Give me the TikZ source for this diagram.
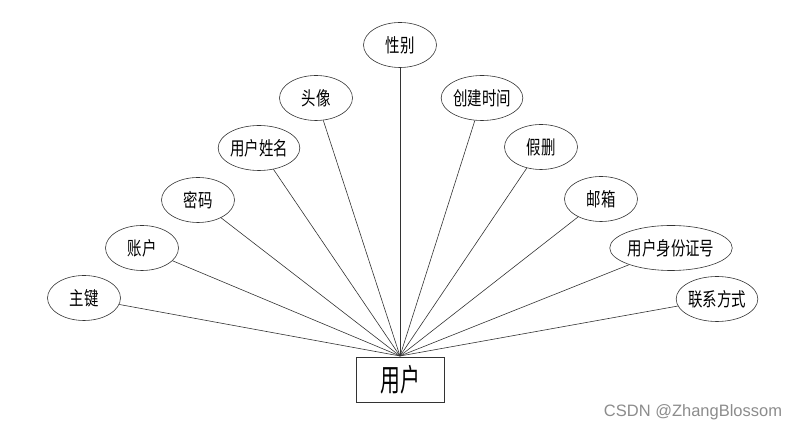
\documentclass[tikz,border=0pt]{standalone}
\usepackage{fontspec}
\usepackage{graphicx}
\usetikzlibrary{shapes.geometric}
\newfontfamily\cjk{Noto Sans CJK SC}
\newfontfamily\wmfont{Liberation Sans}
\newcommand\zhtxt[1]{\scalebox{0.76}[1]{#1}}
\newcommand\bigzh[1]{\scalebox{0.64}[1]{#1}}
\begin{document}
\begin{tikzpicture}[x=1pt,y=1pt,
  attr/.style={draw=black!80, line width=0.6pt, ellipse, minimum width=73pt, minimum height=45pt, inner sep=0pt, font=\cjk\fontsize{19}{19}\selectfont},
  ent/.style={draw=black!80, line width=0.7pt, rectangle, minimum width=88pt, minimum height=45pt, inner sep=0pt, font=\cjk\fontsize{31}{31}\selectfont},
  link/.style={draw=black!80, line width=0.6pt}]
\useasboundingbox (0,0) rectangle (800,430);
\node[ent] (u) at (400,50.5) {\bigzh{用户}};
\coordinate (hub) at (400,74);
\node[attr] (xb) at (400,385) {\zhtxt{性别}};
\node[attr] (tx) at (316,332) {\zhtxt{头像}};
\node[attr] (cj) at (482,332) {\zhtxt{创建时间}};
\node[attr] (xm) at (259,282) {\zhtxt{用户姓名}};
\node[attr] (js) at (541,283) {\zhtxt{假删}};
\node[attr] (mm) at (198,230) {\zhtxt{密码}};
\node[attr] (yx) at (601,231) {\zhtxt{邮箱}};
\node[attr] (zh) at (142,182) {\zhtxt{账户}};
\node[attr, minimum width=98pt] (sf) at (671,182) {\zhtxt{用户身份证号}};
\node[attr] (zj) at (84,132) {\zhtxt{主键}};
\node[attr] (lx) at (717,131) {\zhtxt{联系方式}};
\foreach \n in {xb,tx,cj,xm,js,mm,yx,zh,sf,zj,lx} {\draw[link] (\n) -- (hub);}
\node[anchor=center, text=black!45, font=\wmfont\fontsize{16.5}{16.5}\selectfont] (wm) at (693,18) {CSDN @ZhangBlossom};
\end{tikzpicture}
\end{document}
